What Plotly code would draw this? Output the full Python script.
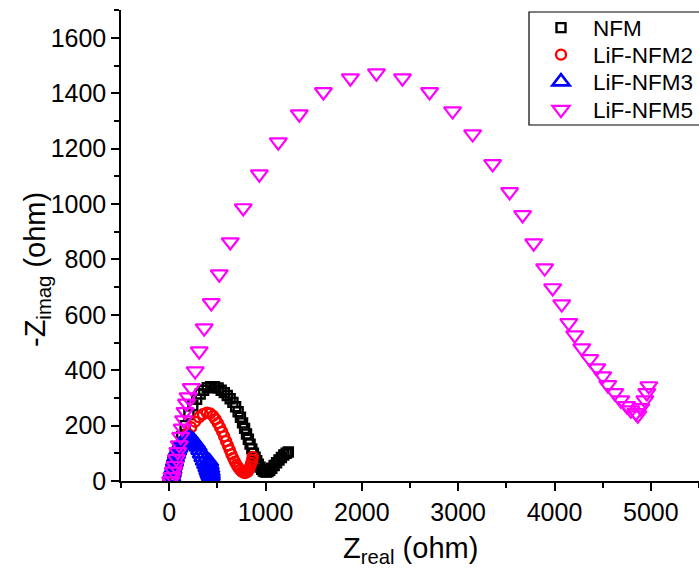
import plotly.graph_objects as go

# ---- data ----
series_names = ["NFM", "LiF-NFM2", "LiF-NFM3", "LiF-NFM5"]

x_nfm = [40, 55, 75, 100, 130, 165, 205, 245, 285, 322, 358, 395, 432, 470, 508, 540, 572,
         603, 633, 662, 690, 716, 740, 762, 783, 803, 822, 840, 858, 875, 892, 909, 926, 943,
         960, 977, 994, 1010, 1026, 1044, 1065, 1090, 1115, 1140, 1165, 1190, 1215, 1237]
y_nfm = [0, 40, 80, 120, 160, 200, 240, 272, 295, 314, 328, 337, 341, 341, 336, 328, 319,
         309, 297, 284, 268, 250, 230, 210, 190, 170, 151, 133, 116, 100, 86, 73, 61, 50,
         42, 36, 33, 32, 34, 39, 46, 56, 66, 76, 85, 94, 100, 105]

x_nfm2 = [60, 72, 88, 108, 132, 160, 192, 228, 268, 310, 350, 390, 425, 456,
          481, 505, 528, 550, 571, 591, 610, 628, 646, 664, 682, 700, 718, 736, 754, 772, 790,
          806, 820, 832, 843, 853, 862, 868]
y_nfm2 = [0, 30, 60, 90, 120, 148, 172, 194, 214, 230, 241, 247, 244, 235,
          223, 209, 194, 178, 161, 144, 128, 112, 97, 83, 70, 58, 48, 40, 34, 30, 29,
          31, 36, 44, 54, 65, 76, 87]

x_nfm3 = [20, 25, 31, 38, 46, 55, 65, 76, 88, 101, 115, 130, 146, 163, 181, 200, 220, 240, 260,
          280, 299, 317, 334, 350, 365, 379, 392, 403, 413, 421, 428, 433, 436, 437, 436, 432,
          426, 420]
y_nfm3 = [0, 14, 28, 42, 56, 70, 84, 97, 109, 120, 130, 138, 144, 148, 151, 152, 151, 148, 142,
          134, 124, 112, 99, 86, 73, 61, 49, 38, 29, 22, 17, 15, 18, 25, 34, 45, 57, 69]

x_nfm5 = [15, 30, 45, 60, 75, 90, 105, 120, 135, 150, 165, 180, 197, 229, 270, 312, 364, 437, 520,
          634, 769, 936, 1133, 1351, 1601, 1881, 2152, 2422, 2703, 2942, 3150, 3358, 3534, 3669,
          3784, 3898, 3981, 4075, 4148, 4210, 4283, 4366, 4439, 4501, 4553, 4626, 4688, 4750,
          4792, 4844, 4865, 4896, 4938, 4958, 4979]
y_nfm5 = [0, 15, 35, 55, 80, 105, 130, 160, 190, 220, 250, 280, 303, 336, 397, 469, 552, 643, 747,
          863, 986, 1108, 1224, 1325, 1405, 1455, 1473, 1455, 1405, 1336, 1253, 1145, 1044, 961,
          859, 769, 697, 639, 571, 527, 480, 441, 408, 379, 347, 318, 292, 271,
          256, 246, 238, 264, 292, 318, 343]

x_ticks = [0, 1000, 2000, 3000, 4000, 5000]
y_ticks = [0, 200, 400, 600, 800, 1000, 1200, 1400, 1600]

# ---- styles ----
FONT = "Arial, Liberation Sans, sans-serif"
styles = [
    ("square-open", "#000000", 9, 2.4),
    ("circle-open", "#ff0000", 10, 2.4),
    ("triangle-up-open", "#0000ff", 15, 2.6),
    ("triangle-down-open", "#ff00ff", 15, 2.2),
]
data = [(x_nfm, y_nfm), (x_nfm2, y_nfm2), (x_nfm3, y_nfm3), (x_nfm5, y_nfm5)]
legend_ids = ["legend", "legend2", "legend3", "legend4"]
legend_rows_px = [28, 55, 82, 110]   # vertical centre of each legend row (pixels from top)

PLOT_L, PLOT_T, PLOT_W, PLOT_H = 121, 10, 578, 471


def paper_y(py):
    return (PLOT_T + PLOT_H - py) / PLOT_H


def paper_x(px):
    return (px - PLOT_L) / PLOT_W


fig = go.Figure()
for name, (xs, ys), (sym, col, sz, lw), lg in zip(series_names, data, styles, legend_ids):
    fig.add_trace(go.Scatter(
        x=xs, y=ys, mode="markers", name=name, legend=lg,
        marker=dict(symbol=sym, size=sz, color=col, line=dict(width=lw, color=col)),
    ))

axis_common = dict(
    showline=True, linecolor="black", linewidth=1.5, mirror=False,
    ticks="outside", ticklen=8, tickwidth=1.5, tickcolor="black",
    showgrid=False, zeroline=False,
    tickfont=dict(family=FONT, size=25, color="black"),
)

legend_common = dict(
    xanchor="left", yanchor="middle", borderwidth=0, bgcolor="rgba(0,0,0,0)",
    font=dict(family=FONT, size=22.5, color="black"), itemwidth=54,
)

layout_legends = {}
for lg, row in zip(legend_ids, legend_rows_px):
    layout_legends[lg] = dict(x=paper_x(529), y=paper_y(row), **legend_common)

fig.update_layout(
    width=699, height=569,
    margin=dict(l=PLOT_L, r=699 - PLOT_L - PLOT_W, t=PLOT_T, b=569 - PLOT_T - PLOT_H,
                autoexpand=False),
    paper_bgcolor="white", plot_bgcolor="white",
    font=dict(family=FONT, color="black"),
    xaxis=dict(range=[-500, 5500], tickvals=x_ticks,
               minor=dict(dtick=500, tick0=-500, ticks="outside", ticklen=5, tickwidth=1.5, tickcolor="black"),
               **axis_common),
    yaxis=dict(range=[0, 1701], tickvals=y_ticks,
               minor=dict(dtick=100, tick0=0, ticks="outside", ticklen=5, tickwidth=1.5, tickcolor="black"),
               **axis_common),
    showlegend=True,
    **layout_legends,
)

# legend frame
fig.add_shape(type="rect", xref="paper", yref="paper",
              x0=paper_x(529), x1=paper_x(712), y0=paper_y(125), y1=paper_y(12),
              line=dict(color="black", width=1.2), fillcolor="rgba(0,0,0,0)", layer="above")

fig.add_annotation(text="Z<sub>real</sub> (ohm)", xref="paper", yref="paper",
                   x=paper_x(410), y=paper_y(550), xanchor="center", yanchor="middle", showarrow=False,
                   font=dict(family=FONT, size=29, color="black"))
fig.add_annotation(text="-Z<sub>imag</sub> (ohm)", xref="paper", yref="paper",
                   x=paper_x(37), y=paper_y(270), xanchor="center", yanchor="middle", showarrow=False,
                   textangle=-90, font=dict(family=FONT, size=29, color="black"))

fig.write_html("out.html")
